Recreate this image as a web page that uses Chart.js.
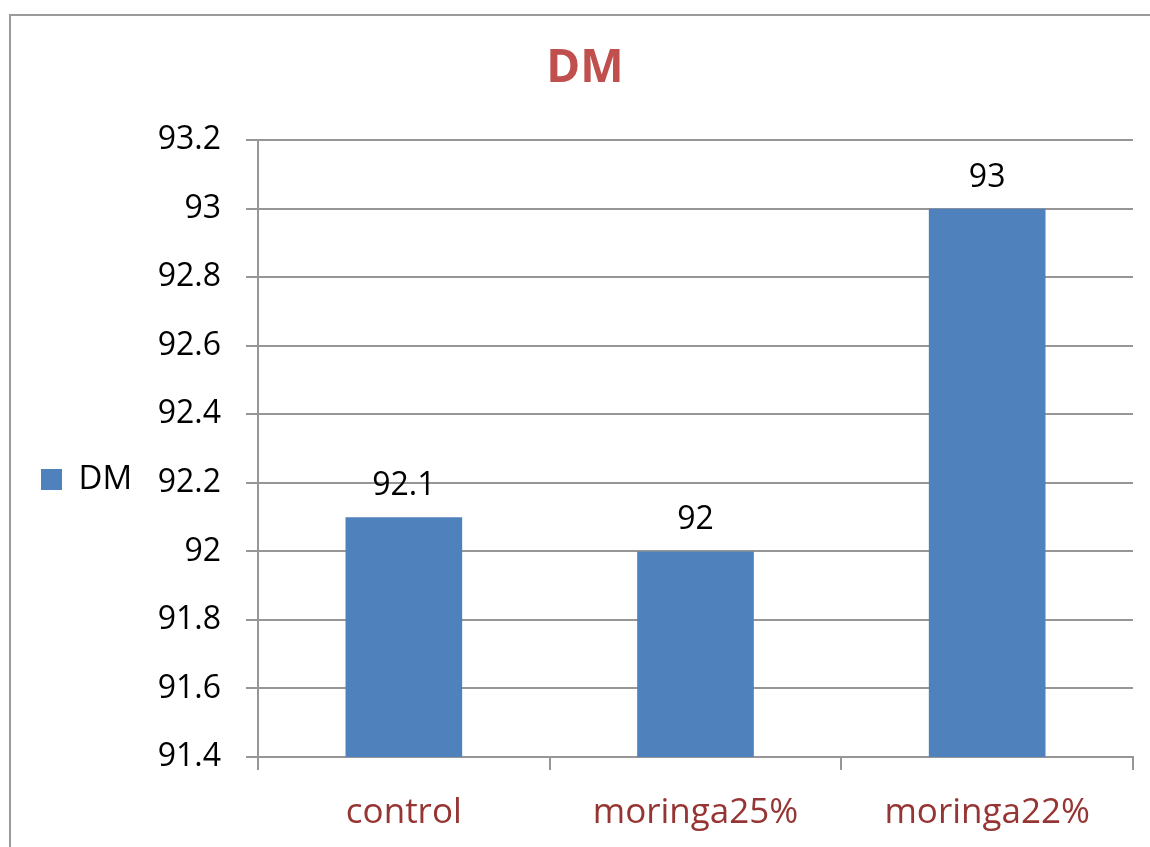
<!DOCTYPE html>
<html>
<head>
<meta charset="utf-8">
<script src="https://cdn.jsdelivr.net/npm/chart.js@4/dist/chart.umd.min.js"></script>
<style>
  html, body { margin: 0; padding: 0; background: #fff; }
  #wrap { position: relative; width: 1150px; height: 847px; overflow: hidden; }
  #frame { position: absolute; left: 9px; top: 14px; width: 1200px; height: 900px;
           border-top: 2px solid #9a9a9a; border-left: 2px solid #9a9a9a; }
  canvas { position: absolute; left: 0; top: 0; }
</style>
</head>
<body>
<div id="wrap">
  <div id="frame"></div>
  <canvas id="chart" width="1150" height="847"></canvas>
</div>
<script>
// Dry matter by diet
const categories = ['control', 'moringa25%', 'moringa22%'];
const seriesName = 'DM';
const dmValues = [92.1, 92, 93];
const yTickValues = [91.4, 91.6, 91.8, 92, 92.2, 92.4, 92.6, 92.8, 93, 93.2];

const FONT = '"Open Sans", "Noto Sans", sans-serif';
const GRID = '#969696';
const BAR = '#4f81bd';
const PAD_LEFT = 37;
const PLOT_LEFT = 258;

// Value written above each bar
const valueLabels = {
  id: 'valueLabels',
  afterDatasetsDraw(chart) {
    const ctx = chart.ctx;
    const meta = chart.getDatasetMeta(0);
    ctx.save();
    ctx.font = '32px ' + FONT;
    ctx.fillStyle = '#000';
    ctx.textAlign = 'center';
    ctx.textBaseline = 'alphabetic';
    meta.data.forEach((bar, i) => {
      ctx.fillText(String(dmValues[i]), bar.x, bar.y - 22);
    });
    ctx.restore();
  }
};

// Nudge the side legend a little below the plot's middle
const legendShift = {
  id: 'legendShift',
  afterLayout(chart) {
    const lg = chart.legend;
    if (lg) { lg.top += 31; lg.bottom += 31; }
  }
};

function build() {
  Chart.defaults.font.family = FONT;
  new Chart(document.getElementById('chart'), {
    type: 'bar',
    data: {
      labels: categories,
      datasets: [{
        label: seriesName,
        data: dmValues,
        backgroundColor: BAR,
        borderWidth: 0,
        barPercentage: 0.4,
        categoryPercentage: 1.0
      }]
    },
    options: {
      responsive: false,
      animation: false,
      devicePixelRatio: 1,
      layout: { padding: { left: PAD_LEFT, right: 17, top: 0, bottom: 0 } },
      plugins: {
        title: {
          display: true,
          text: 'DM',
          color: '#c0504d',
          font: { size: 46, weight: 'bold', family: FONT },
          padding: { top: 41, bottom: 44 }
        },
        legend: {
          display: true,
          position: 'left',
          fullSize: false,
          labels: {
            boxWidth: 21,
            boxHeight: 21,
            padding: 4,
            color: '#000',
            font: { size: 33, family: FONT }
          }
        },
        tooltip: { enabled: false }
      },
      scales: {
        x: {
          grid: {
            display: true,
            drawOnChartArea: false,
            drawTicks: true,
            tickLength: 13,
            color: GRID,
            lineWidth: 2
          },
          border: { display: true, color: GRID, width: 2 },
          ticks: {
            color: '#963634',
            padding: 22,
            font: { size: 35, family: FONT },
            maxRotation: 0
          },
          afterFit(scale) { scale.height = 90; }
        },
        y: {
          min: yTickValues[0],
          max: yTickValues[yTickValues.length - 1],
          afterBuildTicks(scale) {
            scale.ticks = yTickValues.map(v => ({ value: v }));
          },
          grid: {
            color: GRID,
            lineWidth: 2,
            tickLength: 12
          },
          border: { display: true, color: GRID, width: 2 },
          ticks: {
            color: '#000',
            padding: 25,
            font: { size: 32, family: FONT },
            callback: v => String(+Number(v).toFixed(1))
          },
          afterFit(scale) {
            const lw = scale.chart.legend ? scale.chart.legend.width : 0;
            scale.width = PLOT_LEFT - PAD_LEFT - lw;
          }
        }
      }
    },
    plugins: [valueLabels, legendShift]
  });
}

if (document.fonts && document.fonts.load) {
  Promise.all([
    document.fonts.load('32px "Open Sans"'),
    document.fonts.load('bold 46px "Open Sans"')
  ]).then(build, build);
} else {
  build();
}
</script>
</body>
</html>
